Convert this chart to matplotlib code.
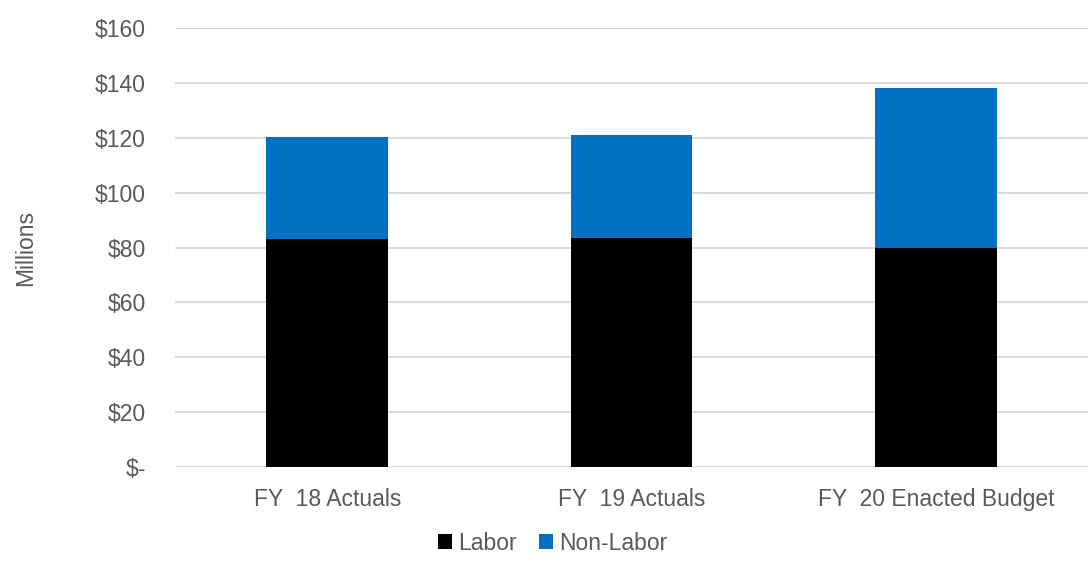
import matplotlib.pyplot as plt
import numpy as np

categories = ["FY  18 Actuals", "FY  19 Actuals", "FY  20 Enacted Budget"]
labor = [83.1, 83.6, 79.8]
non_labor = [37.3, 37.5, 58.2]
yticks = [0, 20, 40, 60, 80, 100, 120, 140, 160]
ytick_labels = ["$-", "$20", "$40", "$60", "$80", "$100", "$120", "$140", "$160"]

plt.rcParams['font.family'] = ['Liberation Sans', 'DejaVu Sans']
grey = '#595959'
fs = 16.5

fig = plt.figure(figsize=(10.88, 5.63), dpi=100)
ax = fig.add_axes([0.161, 0.1705, 0.839, 0.7795])

x = np.arange(len(categories))
ax.bar(x, labor, width=0.4, color='black', label='Labor', zorder=3)
ax.bar(x, non_labor, width=0.4, bottom=labor, color='#0070C0', label='Non-Labor', zorder=3)

ax.set_xlim(-0.5, 2.5)
ax.set_ylim(0, 160)
ax.set_yticks(yticks)
ax.set_yticklabels(ytick_labels)
ax.set_xticks(x)
ax.set_xticklabels(categories)
ax.tick_params(axis='both', length=0, colors=grey, labelsize=fs)
ax.tick_params(axis='y', pad=21)
ax.tick_params(axis='x', pad=15)
ax.grid(axis='y', color='#d9d9d9', linewidth=1.3, zorder=0)
for s in ax.spines.values():
    s.set_visible(False)

fig.text(0.024, 0.56, 'Millions', rotation=90, va='center', ha='center', color=grey, fontsize=fs)

fig.legend(loc='lower center', bbox_to_anchor=(0.508, -0.022), ncol=2, frameon=False,
           fontsize=fs, handlelength=0.6, handleheight=0.6, handletextpad=0.25,
           columnspacing=1.0, labelcolor=grey)

fig.savefig('out.png', dpi=100)
